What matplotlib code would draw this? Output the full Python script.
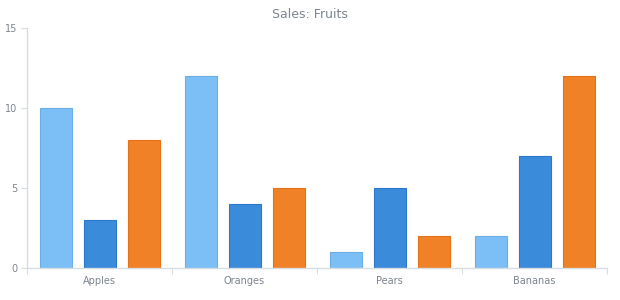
import matplotlib
matplotlib.use("Agg")
import matplotlib.pyplot as plt
import numpy as np

categories = ["Apples", "Oranges", "Pears", "Bananas"]
series1 = [10, 12, 1, 2]
series2 = [3, 4, 5, 7]
series3 = [8, 5, 2, 12]
yticks = [0, 5, 10, 15]

colors = ["#7cbff6", "#3b8bdb", "#f08127"]
edges = ["#6aaee8", "#2a78cc", "#e57218"]

fig = plt.figure(figsize=(6.2, 3.0), dpi=100)
ax = fig.add_axes([27/620, 1-268/300, 580/620, 240/300])

bw = 0.22
gap = 0.083
start = 0.09
x = np.arange(len(categories))
for i, (s, c, e) in enumerate(zip([series1, series2, series3], colors, edges)):
    ax.bar(x + start + i*(bw+gap), s, width=bw, align="edge", color=c,
           edgecolor=e, linewidth=0.8, zorder=2)

ax.set_xlim(0, len(categories))
ax.set_ylim(0, 15)
ax.set_yticks(yticks)
ax.set_yticklabels([str(v) for v in yticks])
ax.set_xticks(np.arange(len(categories)+1))
ax.set_xticklabels([])
ax.set_xticks(x + 0.5, minor=True)
ax.set_xticklabels(categories, minor=True)
ax.tick_params(axis="x", which="minor", length=0, pad=6, labelsize=7, labelcolor="#7c8590")
ax.tick_params(axis="x", which="major", length=4, color="#d8dde2", direction="out")
ax.tick_params(axis="y", length=4, color="#d8dde2", labelsize=7, labelcolor="#7c8590", pad=3)

for sp in ["top", "right"]:
    ax.spines[sp].set_visible(False)
for sp in ["left", "bottom"]:
    ax.spines[sp].set_color("#d8dde2")
    ax.spines[sp].set_linewidth(1.0)

fig.text(0.5, 1-14/300, "Sales: Fruits", ha="center", va="center",
         fontsize=9, color="#7c8590")

fig.savefig("out.png", dpi=100)
